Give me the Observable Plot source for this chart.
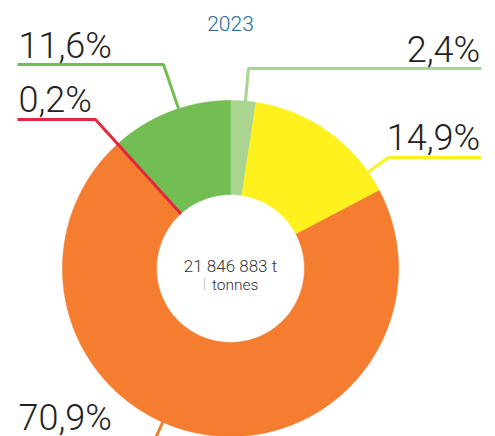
<!DOCTYPE html>
<html>
<head>
<meta charset="utf-8">
<script src="https://cdn.jsdelivr.net/npm/d3@7"></script>
<script src="https://cdn.jsdelivr.net/npm/@observablehq/plot@0.6"></script>
<style>
  html, body { margin: 0; padding: 0; background: #fff; }
  #chart svg { display: block; }
</style>
</head>
<body>
<div id="chart"></div>
<script>
// ---- data ----
const title = "2023";
const categories = ["Catégorie A", "Catégorie B", "Catégorie C", "Catégorie D", "Catégorie E"];
const shares = [2.4, 14.9, 70.9, 0.2, 11.6];          // % (clockwise from 12 o'clock)
const shareLabels = ["2,4%", "14,9%", "70,9%", "0,2%", "11,6%"];
const colors = ["#a9d591", "#fff11e", "#f47d30", "#e4283c", "#72be53"];
const totalLabel = "21 846 883 t";
const unitLabel = "tonnes";

// ---- layout (leader lines, in chart units: radius 1 = outer edge) ----
const innerR = 0.44;
const leaders = [
  {i: 0, angle: 5.1,   r: 1.0,    elbow: [0.107, 1.190], endX: 1.494, side: "right", dy: -7},
  {i: 1, angle: 55,    r: 1.0,    elbow: [0.940, 0.661], endX: 1.494, side: "right", dy: -7},
  {i: 2, angle: 203.8, r: 1.0,    elbow: [-0.447, -1.012], endX: -1.268, side: "left", dy: -9},
  {i: 3, angle: null,  r: innerR, elbow: [-0.804, 0.887], endX: -1.268, side: "left", dy: -7},
  {i: 4, angle: -18,   r: 1.0,    elbow: [-0.399, 1.214], endX: -1.268, side: "left", dy: -7}
];

// ---- geometry ----
const rad = d => d * Math.PI / 180;
const total = d3.sum(shares);
let acc = 0;
const slices = shares.map((v, i) => {
  const a0 = acc / total * 360, a1 = (acc + v) / total * 360;
  acc += v;
  return {i, a0, a1, mid: (a0 + a1) / 2};
});
function slicePoints(s) {
  const n = Math.max(2, Math.ceil((s.a1 - s.a0) / 0.5));
  const pts = [];
  for (let k = 0; k <= n; k++) {
    const a = rad(s.a0 + (s.a1 - s.a0) * k / n);
    pts.push({x: Math.sin(a), y: Math.cos(a)});
  }
  for (let k = n; k >= 0; k--) {
    const a = rad(s.a0 + (s.a1 - s.a0) * k / n);
    pts.push({x: innerR * Math.sin(a), y: innerR * Math.cos(a)});
  }
  return pts;
}
const sliceMarks = slices.map(s =>
  Plot.line(slicePoints(s), {x: "x", y: "y", fill: colors[s.i], stroke: colors[s.i], strokeWidth: 0.6, curve: "linear"})
);
const leaderMarks = leaders.map(L => {
  const ang = L.angle == null ? slices[L.i].mid : L.angle;
  const a = rad(ang);
  const pts = [
    {x: L.r * Math.sin(a), y: L.r * Math.cos(a)},
    {x: L.elbow[0], y: L.elbow[1]},
    {x: L.endX, y: L.elbow[1]}
  ];
  return Plot.line(pts, {x: "x", y: "y", stroke: colors[L.i], strokeWidth: 3, strokeLinejoin: "miter", strokeLinecap: "butt"});
});
const fontFamily = "Roboto, 'Liberation Sans', sans-serif";
const labelMarks = leaders.map(L => Plot.text([shareLabels[L.i]], {
  x: L.endX + (L.side === "right" ? -0.008 : 0.006),
  y: L.elbow[1],
  text: d => d,
  textAnchor: L.side === "right" ? "end" : "start",
  lineAnchor: "bottom",
  dy: L.dy,
  fontSize: 36, fontWeight: 300, fill: "#222"
}));

const chart = Plot.plot({
  width: 495,
  height: 436,
  margin: 0,
  x: {domain: [-1, 1], range: [62, 398], axis: null},
  y: {domain: [1, -1], range: [100, 436], axis: null},
  style: {fontFamily, background: "#fff", overflow: "hidden"},
  marks: [
    ...sliceMarks,
    ...leaderMarks,
    ...labelMarks,
    Plot.text([title], {x: 0, y: 1.411, text: d => d, textAnchor: "middle", lineAnchor: "bottom", fontSize: 21, fontWeight: 300, fill: "#2b6a9b"}),
    Plot.text([totalLabel], {x: 0, y: -0.018, text: d => d, textAnchor: "middle", lineAnchor: "bottom", fontSize: 17, fontWeight: 300, fill: "#333"}),
    Plot.text([unitLabel], {x: -0.11, y: -0.125, text: d => d, textAnchor: "start", lineAnchor: "bottom", fontSize: 15.5, fontWeight: 300, fill: "#333"}),
    Plot.ruleX([-0.155], {y1: -0.055, y2: -0.135, stroke: "#d8d8d8", strokeWidth: 1.5})
  ]
});
document.getElementById("chart").appendChild(chart);
</script>
</body>
</html>
